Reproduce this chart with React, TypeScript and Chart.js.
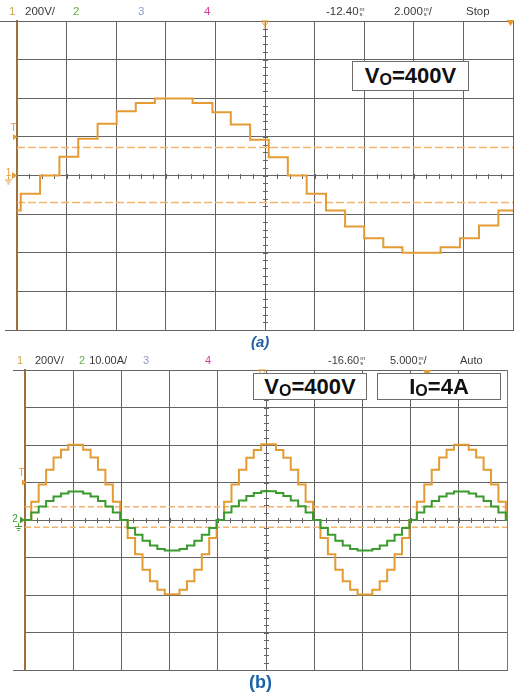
import React, { useEffect, useRef } from 'react';
import { Chart, registerables } from 'chart.js';

Chart.register(...registerables);

// ---------------- (a)  ch1 200 V/div, 2 ms/div ----------------
const timeA = [0, 0.15, 0.93, 1.71, 2.47, 3.25, 4.02, 4.79, 5.56, 7.08, 7.88, 8.62, 9.40, 10.15, 10.92, 11.68, 12.46, 13.23, 14.00, 14.77, 15.54, 17.08, 17.86, 18.63, 19.41, 20.0];
const voltA = [-181, -95, 0, 97, 190, 268, 333, 375, 399, 375, 327, 264, 185, 95, 0, -95, -181, -264, -325, -371, -400, -371, -325, -259, -181, -181];
const cursorsA = [145, -140];

// ---------------- (b)  ch1 200 V/div, ch2 10 A/div, 5 ms/div ----------------
const timeB = [
  0, 0.65, 1.42, 2.19, 2.96, 3.73, 4.50, 6.03, 6.80, 7.57, 8.34, 9.11,
  9.88, 10.65, 11.42, 12.19, 12.96, 13.73, 14.50, 16.03, 16.80, 17.57, 18.34, 19.11,
  19.88, 20.65, 21.42, 22.19, 22.96, 23.73, 24.50, 26.03, 26.80, 27.57, 28.34, 29.11,
  29.88, 30.65, 31.42, 32.19, 32.96, 33.73, 34.50, 36.03, 36.80, 37.57, 38.34, 39.11,
  39.88, 40.65, 41.42, 42.19, 42.96, 43.73, 44.50, 46.03, 46.80, 47.57, 48.34, 49.11,
  49.88, 50.0,
];
const voltB = [
  0, 97, 190, 268, 333, 375, 402, 375, 333, 268, 190, 97,
  0, -96, -182, -265, -326, -372, -396, -372, -326, -265, -182, -96,
  0, 98, 190, 268, 332, 374, 404, 374, 332, 268, 190, 98,
  0, -96, -183, -265, -327, -372, -397, -372, -327, -265, -183, -96,
  0, 97, 190, 268, 333, 375, 402, 375, 333, 268, 190, 97,
  0, 0,
];
const ampB = [
  0, 2.0, 3.6, 5.1, 6.3, 7.1, 7.6, 7.1, 6.3, 5.1, 3.6, 2.0,
  0, -2.1, -3.9, -5.5, -6.8, -7.7, -8.1, -7.7, -6.8, -5.5, -3.9, -2.1,
  0, 2.0, 3.7, 5.2, 6.4, 7.2, 7.7, 7.2, 6.4, 5.2, 3.7, 2.0,
  0, -2.1, -3.9, -5.5, -6.8, -7.7, -8.1, -7.7, -6.8, -5.5, -3.9, -2.1,
  0, 2.0, 3.6, 5.1, 6.3, 7.1, 7.6, 7.1, 6.3, 5.1, 3.6, 2.0,
  0, 0,
];
const cursorsB = [71, -39];

const ORANGE = '#e49b34';
const GREEN = '#3b9b2e';
const GRID = '#646464';
const BROWN = '#a06f3e';
const DASH = '#f2b46c';
const TXT = '#3a3a3a';

const pts = (xs: number[], ys: number[]) => xs.map((x, i) => ({ x, y: ys[i] }));

function tri(ctx: CanvasRenderingContext2D, p: number[][], color: string, fill = true) {
  ctx.beginPath();
  ctx.moveTo(p[0][0], p[0][1]);
  ctx.lineTo(p[1][0], p[1][1]);
  ctx.lineTo(p[2][0], p[2][1]);
  ctx.closePath();
  if (fill) { ctx.fillStyle = color; ctx.fill(); } else { ctx.strokeStyle = color; ctx.lineWidth = 1; ctx.stroke(); }
}

function ground(ctx: CanvasRenderingContext2D, x: number, y: number, color: string) {
  ctx.strokeStyle = color;
  ctx.lineWidth = 1;
  ctx.beginPath();
  ctx.moveTo(x + 0.5, y); ctx.lineTo(x + 0.5, y + 3);
  ctx.moveTo(x - 3, y + 3.5); ctx.lineTo(x + 4, y + 3.5);
  ctx.moveTo(x - 1.5, y + 5.5); ctx.lineTo(x + 2.5, y + 5.5);
  ctx.moveTo(x - 0.5, y + 7.5); ctx.lineTo(x + 1.5, y + 7.5);
  ctx.stroke();
}

function makeDecor(kind: 'a' | 'b') {
  return {
    id: 'decor' + kind,
    beforeDatasetsDraw(chart: any) {
      const ctx: CanvasRenderingContext2D = chart.ctx;
      const xs = chart.scales.x, ys = chart.scales.y;
      const { left, top, bottom } = chart.chartArea;
      const xMax = kind === 'a' ? 20 : 50;
      const xDiv = xMax / 10;
      const cx = Math.round(xs.getPixelForValue(xMax / 2)) + 0.5;
      const cy = Math.round(ys.getPixelForValue(0)) + 0.5;
      ctx.save();
      ctx.strokeStyle = GRID;
      ctx.lineWidth = 1;
      ctx.beginPath();
      for (let v = xDiv / 4; v < xMax; v += xDiv / 4) {
        const px = Math.round(xs.getPixelForValue(v)) + 0.5;
        ctx.moveTo(px, cy - 2.5); ctx.lineTo(px, cy + 2.5);
      }
      for (let v = -760; v < 800; v += 40) {
        const py = Math.round(ys.getPixelForValue(v)) + 0.5;
        ctx.moveTo(cx - 2.5, py); ctx.lineTo(cx + 2.5, py);
      }
      // frame extensions to the left
      const ext = kind === 'a' ? [0, 5] : [13, 13];
      ctx.moveTo(ext[0], Math.round(top) + 0.5); ctx.lineTo(left, Math.round(top) + 0.5);
      ctx.moveTo(ext[1], Math.round(bottom) + 0.5); ctx.lineTo(left, Math.round(bottom) + 0.5);
      ctx.stroke();
      ctx.restore();
    },
    afterDatasetsDraw(chart: any) {
      const ctx: CanvasRenderingContext2D = chart.ctx;
      const xs = chart.scales.x, ys = chart.scales.y;
      const { left, top } = chart.chartArea;
      const cy = ys.getPixelForValue(0);
      const ty = ys.getPixelForValue(200);
      ctx.save();
      ctx.font = '10px "Liberation Sans", Arial, sans-serif';
      ctx.textBaseline = 'middle';
      ctx.textAlign = 'center';
      if (kind === 'a') {
        ctx.fillStyle = ORANGE;
        ctx.fillText('1', 8.5, cy - 2);
        tri(ctx, [[12, cy - 3.5], [12, cy + 3.5], [17, cy]], ORANGE);
        ground(ctx, 8, cy + 1, ORANGE);
        ctx.fillStyle = ORANGE;
        ctx.fillText('T', 13.5, ty - 9);
        tri(ctx, [[13, ty - 3], [13, ty + 3], [17.5, ty]], ORANGE);
        const mx = xs.getPixelForValue(10);
        tri(ctx, [[mx - 4, top], [mx + 4, top], [mx, top + 5]], ORANGE, false);
        ctx.strokeStyle = ORANGE;
        ctx.beginPath(); ctx.moveTo(mx, top); ctx.lineTo(mx, top + 8); ctx.stroke();
        const rx = xs.getPixelForValue(19.9);
        tri(ctx, [[rx - 4, top - 1], [rx + 4, top - 1], [rx, top + 5]], ORANGE);
      } else {
        ctx.fillStyle = ORANGE;
        ctx.fillText('T', left - 3.5, ty - 9);
        tri(ctx, [[left - 3, ty - 3], [left - 3, ty + 3], [left + 1.5, ty]], ORANGE);
        ctx.fillStyle = GREEN;
        ctx.fillText('2', 15, cy - 1);
        tri(ctx, [[20, cy - 3.5], [20, cy + 3.5], [25, cy]], GREEN);
        ground(ctx, 18, cy + 3, GREEN);
        const mx = xs.getPixelForValue(24.6);
        tri(ctx, [[mx - 4, top], [mx + 4, top], [mx, top + 5]], ORANGE, false);
        const rx = xs.getPixelForValue(41.7);
        tri(ctx, [[rx - 4.5, top], [rx + 4.5, top], [rx, top + 6]], ORANGE);
      }
      ctx.restore();
    },
  };
}

function axisCfg(min: number, max: number, step: number, gridColor: any, borderColor: string, borderWidth: number) {
  return {
    type: 'linear' as const,
    min, max,
    ticks: { display: false, stepSize: step },
    grid: { color: gridColor, lineWidth: 1, drawTicks: false },
    border: { display: true, color: borderColor, width: borderWidth },
  };
}

function cursorSet(level: number, xMax: number, dash: number[]) {
  return {
    data: [{ x: 0, y: level }, { x: xMax, y: level }],
    borderColor: DASH,
    borderWidth: 1.4,
    borderDash: dash,
    pointRadius: 0,
    yAxisID: 'y',
  };
}

function configA(): any {
  return {
    type: 'line',
    data: {
      datasets: [
        { data: pts(timeA, voltA), borderColor: ORANGE, borderWidth: 2, stepped: true, pointRadius: 0, yAxisID: 'y' },
        ...cursorsA.map((c) => cursorSet(c, 20, [8, 3])),
      ],
    },
    options: {
      responsive: false,
      animation: false,
      devicePixelRatio: 1,
      events: [],
      layout: { padding: { left: 17, right: 1, top: 21, bottom: 5 } },
      plugins: { legend: { display: false }, tooltip: { enabled: false } },
      scales: {
        x: axisCfg(0, 20, 2, GRID, GRID, 1),
        y: axisCfg(-800, 800, 200, GRID, BROWN, 2),
      },
    },
    plugins: [makeDecor('a')],
  };
}

function configB(): any {
  return {
    type: 'line',
    data: {
      datasets: [
        { data: pts(timeB, ampB), borderColor: GREEN, borderWidth: 2, stepped: true, pointRadius: 0, yAxisID: 'y2' },
        { data: pts(timeB, voltB), borderColor: ORANGE, borderWidth: 2, stepped: true, pointRadius: 0, yAxisID: 'y' },
        ...cursorsB.map((c) => cursorSet(c, 50, [6, 3])),
      ],
    },
    options: {
      responsive: false,
      animation: false,
      devicePixelRatio: 1,
      events: [],
      layout: { padding: { left: 25, right: 7, top: 25, bottom: 10 } },
      plugins: { legend: { display: false }, tooltip: { enabled: false } },
      scales: {
        x: axisCfg(0, 50, 5, (c: any) => (c.index === 10 ? BROWN : GRID), GRID, 1),
        y: axisCfg(-800, 800, 200, GRID, BROWN, 2),
        y2: { type: 'linear', min: -40, max: 40, display: false },
      },
    },
    plugins: [makeDecor('b')],
  };
}

const Ms = () => (
  <span style={{ display: 'inline-flex', flexDirection: 'column', fontSize: 6, lineHeight: '4.5px', marginLeft: 1 }}>
    <span>m</span>
    <span>s</span>
  </span>
);

const hdr = (x: number, y: number, size: number, color: string, children: any) => (
  <div style={{ position: 'absolute', left: x, top: y, fontSize: size, lineHeight: `${size}px`, color, display: 'flex', alignItems: 'center', whiteSpace: 'nowrap' }}>
    {children}
  </div>
);

const boxStyle = (l: number, t: number, w: number, h: number): React.CSSProperties => ({
  position: 'absolute', left: l, top: t, width: w, height: h, boxSizing: 'border-box',
  border: '1.5px solid #6c6c6c', background: '#fff', display: 'flex', alignItems: 'center', justifyContent: 'center',
  font: 'bold 22px "Liberation Sans", Arial, sans-serif', color: '#111', lineHeight: '22px',
});
const Sub = ({ t }: { t: string }) => <span style={{ fontSize: 16, position: 'relative', top: 4 }}>{t}</span>;

export default function App() {
  const refA = useRef<HTMLCanvasElement>(null);
  const refB = useRef<HTMLCanvasElement>(null);
  useEffect(() => {
    const a = new Chart(refA.current as HTMLCanvasElement, configA());
    const b = new Chart(refB.current as HTMLCanvasElement, configB());
    return () => { a.destroy(); b.destroy(); };
  }, []);

  const font = '"Liberation Sans", Arial, sans-serif';
  return (
    <div style={{ position: 'absolute', left: 0, top: 0, width: 514, height: 697, background: '#fff', overflow: 'hidden', fontFamily: font }}>
      <canvas ref={refA} width={514} height={335} style={{ position: 'absolute', left: 0, top: 0, width: 514, height: 335 }} />
      <canvas ref={refB} width={514} height={335} style={{ position: 'absolute', left: 0, top: 345, width: 514, height: 335 }} />

      {/* header (a) */}
      {hdr(9, 6, 11.5, '#d2a54a', '1')}
      {hdr(25, 6, 11.5, TXT, '200V/')}
      {hdr(73, 6, 11.5, '#62b04c', '2')}
      {hdr(138, 6, 11.5, '#8c9ad0', '3')}
      {hdr(204, 6, 11.5, '#d43c9c', '4')}
      {hdr(326, 6, 11.5, TXT, <>-12.40<Ms /></>)}
      {hdr(394, 6, 11.5, TXT, <>2.000<Ms />/</>)}
      {hdr(466, 6, 11.5, TXT, 'Stop')}

      {/* header (b) */}
      {hdr(17, 355, 11, '#d2a54a', '1')}
      {hdr(35, 355, 11, TXT, '200V/')}
      {hdr(79, 355, 11, '#62b04c', <>2<span style={{ color: TXT, marginLeft: 4 }}>10.00A/</span></>)}
      {hdr(143, 355, 11, '#8c9ad0', '3')}
      {hdr(205, 355, 11, '#d43c9c', '4')}
      {hdr(328, 355, 11, TXT, <>-16.60<Ms /></>)}
      {hdr(390, 355, 11, TXT, <>5.000<Ms />/</>)}
      {hdr(460, 355, 11, TXT, 'Auto')}

      {/* annotation boxes */}
      <div style={boxStyle(352, 61, 117, 30)}>V<Sub t="O" />=400V</div>
      <div style={boxStyle(253, 373, 114, 27)}>V<Sub t="O" />=400V</div>
      <div style={boxStyle(377, 373, 124, 27)}>I<Sub t="O" />=4A</div>

      {/* captions */}
      <div style={{ position: 'absolute', left: 251, top: 334, font: `italic bold 15px ${font}`, lineHeight: '15px', color: '#1f5fa8' }}>(a)</div>
      <div style={{ position: 'absolute', left: 249, top: 673, font: `bold 18px ${font}`, lineHeight: '18px', color: '#1a62a8' }}>(b)</div>
    </div>
  );
}
